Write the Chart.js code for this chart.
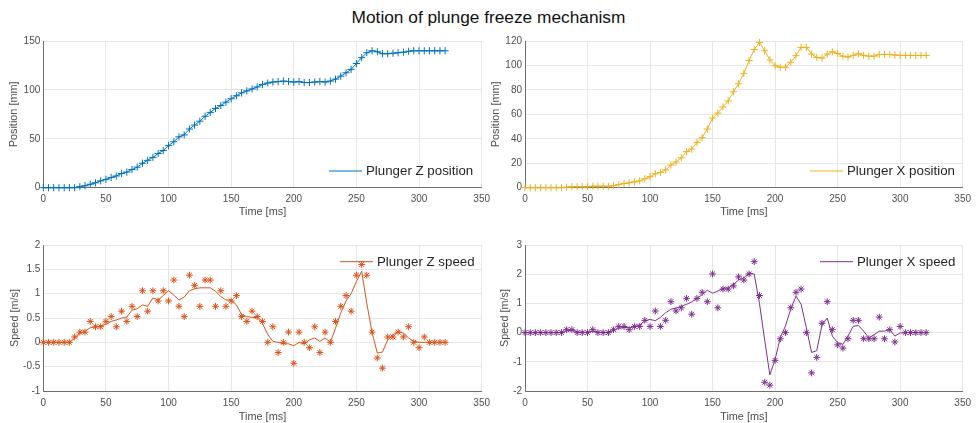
<!DOCTYPE html>
<html>
<head>
<meta charset="utf-8">
<script src="https://cdn.jsdelivr.net/npm/chart.js@4/dist/chart.umd.min.js"></script>
<style>
  body { margin: 0; width: 977px; height: 423px; background: #fff; overflow: hidden; position: relative; }
  #title { position: absolute; left: 0; width: 977px; top: 7px; text-align: center;
           font: 17.3px "Liberation Sans", Arial, sans-serif; color: #111; }
  canvas { position: absolute; }
</style>
</head>
<body>
<div id="title">Motion of plunge freeze mechanism</div>
<canvas id="zPos"></canvas>
<canvas id="xPos"></canvas>
<canvas id="zSpeed"></canvas>
<canvas id="xSpeed"></canvas>
<script>
// ---------- data (240 fps samples) ----------
const timeMs = [0,4.2,8.3,12.5,16.7,20.8,25,29.2,33.3,37.5,41.7,45.8,50,54.2,58.3,62.5,66.7,70.8,75,79.2,
  83.3,87.5,91.7,95.8,100,104.2,108.3,112.5,116.7,120.8,125,129.2,133.3,137.5,141.7,145.8,150,154.2,158.3,162.5,
  166.7,170.8,175,179.2,183.3,187.5,191.7,195.8,200,204.2,208.3,212.5,216.7,220.8,225,229.2,233.3,237.5,241.7,245.8,
  250,254.2,258.3,262.5,266.7,270.8,275,279.2,283.3,287.5,291.7,295.8,300,304.2,308.3,312.5,316.7,320.8];

const zPosition = [0,0,0,0,0,0,0,1,2,3.5,
  5,7,8.5,10.5,12,14.5,16,18.5,21,25,
  28,31,35,38,43,47,52,54,60,64,
  68,73,77,81,84,87.5,91,94,97,99,
  101,103,105.5,107,108,108.5,109,108.5,108,108.5,
  107.5,107.5,108,108.5,108,109,111,114,117.5,121,
  127,133,138,140,139,137,137,137.5,138,138.5,
  139.5,140,140,140,140,140,140,140];

const xPosition = [0,0,0,0,0,0,0,0,0.4,0.8,
  0.8,0.8,0.8,1.2,1.2,1.2,1.2,1.7,2.5,3.4,
  4,4.8,5.6,7.3,9,11.5,12.5,14.5,18.5,21,
  24.5,29.5,31.6,37,41,48,57,61,66,71,
  78.5,85,93.5,104,113,118.8,112,104.5,99.8,98.5,
  98.5,102.6,108,114.8,114.8,109.3,106.6,106,109.3,111.2,
  109.8,107.6,106.9,108.3,109.6,108.3,107.6,107.6,109,109,
  109,108.5,108.2,108.2,108.2,108.2,108.2,108.2];

// raw speed samples
const zSpeedRaw = [0,0,0,0,0,0,0.11,0.21,0.21,0.43,
  0.32,0.32,0.43,0.53,0.32,0.64,0.43,0.74,0.53,1.06,
  0.64,1.06,0.85,1.06,0.85,1.28,0.74,0.53,1.38,1.17,
  0.74,1.28,1.28,0.74,1.06,0.74,0.85,0.96,0.53,0.43,
  0.64,0.53,0.43,0,0.32,-0.21,0,0.21,-0.43,0.21,
  0,-0.11,0.32,-0.21,0.21,0,0.43,0.74,0.96,0.64,
  1.38,1.6,1.38,0.21,-0.32,-0.53,0.11,0.11,0.21,0.11,
  0.32,0,-0.11,0.11,0,0,0,0];

// smoothed speed
const zSpeedSmooth = [0,0,0,0,0,0,0.08,0.18,0.23,0.3,
  0.32,0.33,0.37,0.43,0.46,0.5,0.52,0.66,0.69,0.77,
  0.74,0.91,0.87,0.96,1.06,0.97,0.87,0.93,1.06,1.1,
  1.12,1.12,1.12,1.05,0.94,0.87,0.87,0.77,0.57,0.53,
  0.51,0.51,0.39,0.16,0.02,0,-0.03,-0.03,-0.07,0,
  -0.03,0.05,0.09,0.02,0.09,0,0.29,0.6,0.85,1.0,
  1.25,1.46,0.8,0.2,-0.22,-0.2,0.05,0.15,0.22,0.19,
  0.09,0.02,0,0,0,0,0,0];

const xSpeedRaw = [0,0,0,0,0,0,0,0,0.1,0.1,
  0,0,0,0.1,0,0,0,0.1,0.21,0.21,
  0.1,0.21,0.21,0.42,0.21,0.74,0.21,0.42,1.06,0.74,
  0.85,1.17,0.63,1.17,1.38,1.06,2.01,0.85,1.49,1.49,
  1.6,1.91,1.8,2.01,2.43,1.27,-1.7,-1.8,-0.95,-0.21,
  0,0.85,1.38,1.49,0,-1.38,-0.85,0.32,1.06,0.1,
  -0.42,-0.53,-0.21,0.42,0.42,-0.21,-0.21,-0.21,0.53,-0.21,
  0.1,-0.32,0.21,0,0,0,0,0];

const xSpeedSmooth = [0,0,0,0,0,0,0,0,0.06,0.08,
  0.03,0.01,0.01,0.05,0.02,0.01,0.01,0.07,0.15,0.18,
  0.17,0.2,0.26,0.4,0.45,0.41,0.52,0.68,0.8,0.84,
  0.9,0.97,1.05,1.17,1.3,1.45,1.35,1.42,1.52,1.53,
  1.65,1.8,1.87,2.05,2.0,1.0,-0.26,-1.45,-0.92,-0.17,
  0.23,0.8,1.25,0.97,0.17,-0.68,-0.62,0.26,0.5,-0.12,
  -0.35,-0.4,-0.12,0.22,0.24,0.05,-0.18,-0.07,0.05,0.05,
  0.1,-0.12,-0.01,0,0,0,0,0];

const timeTicks = { min: 0, max: 350, step: 50 };

// ---------- look ----------
const FONT = '"Liberation Sans", Arial, Helvetica, sans-serif';
Chart.defaults.font.family = FONT;
Chart.defaults.animation = false;

const BLUE = '#0072BD', YELLOW = '#EDB120', ORANGE = '#D95319', PURPLE = '#7E2F8E';

const pts = arr => arr.map((v, i) => ({ x: timeMs[i], y: v }));
// plain tick numbers: 2, 1.5, 1, 0.5 ... (no forced decimals)
const plainTick = v => String(+v.toFixed(3));

// legend drawn inside the axes, MATLAB style (line sample + text, no box)
const insetLegend = {
  id: 'insetLegend',
  beforeDatasetsDraw(chart, args, opts) {
    const { ctx, chartArea } = chart;
    const ds = chart.data.datasets[0];
    const x0 = chartArea.left + opts.x, y0 = chartArea.top + opts.y;
    ctx.save();
    ctx.strokeStyle = ds.borderColor;
    ctx.lineWidth = 1;
    ctx.beginPath();
    ctx.moveTo(x0, y0);
    ctx.lineTo(x0 + 33, y0);
    ctx.stroke();
    ctx.font = '13.3px ' + FONT;
    ctx.fillStyle = '#262626';
    ctx.textBaseline = 'middle';
    ctx.fillText(ds.label, x0 + 37, y0 + 0.5);
    ctx.restore();
  }
};

// cfg.box = canvas rect on page, cfg.area = wanted plot area on page
function makeChart(id, cfg) {
  const cv = document.getElementById(id);
  const b = cfg.box, a = cfg.area;
  cv.width = b.w; cv.height = b.h;
  cv.style.left = b.x + 'px'; cv.style.top = b.y + 'px';
  const yW = a.l - b.x, xH = b.y + b.h - a.b;
  const axisText = { size: 10.9, lineHeight: 1.2 };
  return new Chart(cv, {
    type: 'line',
    data: { datasets: cfg.datasets },
    plugins: [insetLegend],
    options: {
      responsive: false,
      events: [],
      layout: { padding: { left: 0, top: a.t - b.y, right: b.x + b.w - a.r, bottom: 0 } },
      plugins: {
        legend: { display: false },
        tooltip: { enabled: false },
        insetLegend: cfg.legend
      },
      scales: {
        x: {
          type: 'linear', min: timeTicks.min, max: timeTicks.max,
          ticks: { stepSize: timeTicks.step, color: '#4d4d4d', font: { size: 10 }, padding: 6, maxRotation: 0, callback: plainTick },
          grid: { color: '#e6e6e6', drawTicks: false },
          border: { color: '#6e6e6e' },
          title: { display: true, text: 'Time [ms]', color: '#4d4d4d', font: axisText, padding: { top: 0, bottom: cfg.xTitlePad } },
          afterFit: s => { s.height = xH; }
        },
        y: {
          min: cfg.y.min, max: cfg.y.max,
          ticks: { stepSize: cfg.y.step, color: '#4d4d4d', font: { size: 10 }, padding: 3, callback: plainTick },
          grid: { color: '#e6e6e6', drawTicks: false },
          border: { color: '#6e6e6e' },
          title: { display: true, text: cfg.y.title, color: '#4d4d4d', font: axisText, padding: { top: cfg.yTitlePad, bottom: 0 } },
          afterFit: s => { s.width = yW; }
        }
      }
    }
  });
}

function posDataset(label, values, color) {
  return {
    label, data: pts(values), borderColor: color, borderWidth: 1, tension: 0,
    pointStyle: 'cross', pointRadius: 3.6, pointBorderColor: color, pointBorderWidth: 1, clip: false
  };
}

function speedDatasets(label, smooth, raw, color) {
  return [
    { label, data: pts(smooth), borderColor: color, borderWidth: 1, tension: 0, pointRadius: 0, clip: false },
    { label: label + ' samples', data: pts(raw), showLine: false, pointStyle: 'star', pointRadius: 3.4,
      pointBorderColor: color, pointBackgroundColor: color, pointBorderWidth: 1, clip: false }
  ];
}

makeChart('zPos', {
  box: { x: 0, y: 26, w: 496, h: 194 },
  area: { l: 43.3, t: 41, r: 486.7, b: 187.7 },
  y: { min: 0, max: 150, step: 50, title: 'Position [mm]' },
  xTitlePad: 1, yTitlePad: 7.8,
  legend: { x: 285.7, y: 130 },
  datasets: [posDataset('Plunger Z position', zPosition, BLUE)]
});

makeChart('xPos', {
  box: { x: 480, y: 26, w: 497, h: 194 },
  area: { l: 525, t: 41, r: 967.3, b: 187.7 },
  y: { min: 0, max: 120, step: 20, title: 'Position [mm]' },
  xTitlePad: 1, yTitlePad: 9.5,
  legend: { x: 285, y: 130 },
  datasets: [posDataset('Plunger X position', xPosition, YELLOW)]
});

makeChart('zSpeed', {
  box: { x: 0, y: 232, w: 496, h: 192 },
  area: { l: 43.3, t: 245, r: 486.7, b: 391 },
  y: { min: -1, max: 2, step: 0.5, title: 'Speed [m/s]' },
  xTitlePad: 0, yTitlePad: 8.5,
  legend: { x: 296.7, y: 16.7 },
  datasets: speedDatasets('Plunger Z speed', zSpeedSmooth, zSpeedRaw, ORANGE)
});

makeChart('xSpeed', {
  box: { x: 480, y: 232, w: 497, h: 192 },
  area: { l: 525, t: 245, r: 967.3, b: 391 },
  y: { min: -2, max: 3, step: 1, title: 'Speed [m/s]' },
  xTitlePad: 0, yTitlePad: 18.5,
  legend: { x: 295, y: 16.7 },
  datasets: speedDatasets('Plunger X speed', xSpeedSmooth, xSpeedRaw, PURPLE)
});
</script>
</body>
</html>
